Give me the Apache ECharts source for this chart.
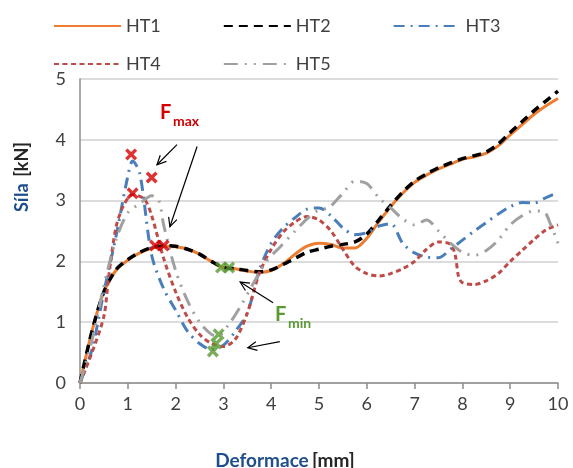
<!DOCTYPE html>
<html>
<head>
<meta charset="utf-8">
<script src="https://cdn.jsdelivr.net/npm/echarts@6/dist/echarts.min.js"></script>
<style>
  html, body { margin: 0; background: #fff; }
  #chart { width: 573px; height: 468px; }
</style>
</head>
<body>
<div id="chart"></div>
<script>
// osa x - deformace [mm], osa y - sila [kN]
const xTicks = [0, 1, 2, 3, 4, 5, 6, 7, 8, 9, 10]
const yTicks = [0, 1, 2, 3, 4, 5]

const ht1X = [0, 0.25, 0.5, 0.75, 1, 1.25, 1.5, 1.75, 2, 2.25, 2.5, 2.75, 3, 3.25, 3.5, 3.75, 4, 4.25, 4.5, 4.75, 5, 5.25, 5.5, 5.75, 6, 6.25, 6.5, 6.75, 7, 7.25, 7.5, 7.75, 8, 8.25, 8.5, 8.75, 9, 9.25, 9.5, 9.75, 10]
const ht1Y = [0, 0.85, 1.5, 1.85, 2.02, 2.14, 2.22, 2.25, 2.24, 2.2, 2.12, 2.0, 1.9, 1.88, 1.84, 1.82, 1.85, 1.96, 2.12, 2.25, 2.3, 2.28, 2.22, 2.22, 2.38, 2.65, 2.9, 3.12, 3.3, 3.42, 3.52, 3.6, 3.68, 3.72, 3.78, 3.9, 4.08, 4.25, 4.42, 4.56, 4.68]

const ht2X = [0, 0.25, 0.5, 0.75, 1, 1.25, 1.5, 1.75, 2, 2.25, 2.5, 2.75, 3, 3.25, 3.5, 3.75, 4, 4.25, 4.5, 4.75, 5, 5.25, 5.5, 5.75, 6, 6.25, 6.5, 6.75, 7, 7.25, 7.5, 7.75, 8, 8.25, 8.5, 8.75, 9, 9.25, 9.5, 9.75, 10]
const ht2Y = [0, 0.85, 1.5, 1.86, 2.03, 2.15, 2.23, 2.26, 2.25, 2.2, 2.12, 2.0, 1.9, 1.88, 1.85, 1.83, 1.86, 1.95, 2.05, 2.15, 2.2, 2.25, 2.28, 2.32, 2.45, 2.68, 2.92, 3.14, 3.32, 3.44, 3.54, 3.62, 3.69, 3.74, 3.8, 3.93, 4.12, 4.3, 4.48, 4.64, 4.8]

const ht3X = [0, 0.25, 0.5, 0.75, 1, 1.1, 1.25, 1.5, 1.75, 2, 2.25, 2.5, 2.75, 3, 3.25, 3.5, 3.75, 4, 4.25, 4.5, 4.75, 5, 5.25, 5.5, 5.75, 6, 6.25, 6.5, 6.75, 7, 7.25, 7.5, 7.75, 8, 8.25, 8.5, 8.75, 9, 9.25, 9.5, 9.75, 10]
const ht3Y = [0, 0.55, 1.5, 2.4, 3.4, 3.65, 3.45, 2.1, 1.55, 1.2, 0.85, 0.65, 0.55, 0.62, 0.85, 1.15, 1.85, 2.3, 2.55, 2.72, 2.86, 2.88, 2.75, 2.55, 2.44, 2.47, 2.58, 2.62, 2.3, 2.14, 2.07, 2.06, 2.2, 2.35, 2.5, 2.64, 2.78, 2.9, 2.97, 2.96, 3.05, 3.13]

const ht4X = [0, 0.25, 0.5, 0.6, 0.75, 0.9, 1.1, 1.35, 1.5, 1.75, 2, 2.25, 2.5, 2.75, 3, 3.25, 3.5, 3.75, 4, 4.25, 4.5, 4.75, 5, 5.25, 5.5, 5.75, 6, 6.25, 6.5, 6.75, 7, 7.25, 7.5, 7.75, 7.85, 7.92, 8, 8.25, 8.5, 8.75, 9, 9.25, 9.5, 9.75, 10]
const ht4Y = [0, 0.5, 1.1, 1.75, 2.55, 2.9, 3.1, 3.02, 2.75, 2.05, 1.5, 1.08, 0.8, 0.65, 0.6, 0.72, 1.15, 1.8, 2.2, 2.48, 2.65, 2.74, 2.68, 2.5, 2.2, 1.92, 1.8, 1.76, 1.8, 1.88, 2.0, 2.2, 2.32, 2.28, 2.1, 1.75, 1.65, 1.62, 1.68, 1.8, 2.0, 2.18, 2.36, 2.52, 2.6]

const ht5X = [0, 0.25, 0.5, 0.75, 1, 1.25, 1.5, 1.65, 1.75, 2, 2.25, 2.5, 2.75, 2.9, 3.1, 3.35, 3.6, 3.9, 4.2, 4.5, 4.75, 5, 5.2, 5.5, 5.75, 6, 6.25, 6.5, 6.75, 7, 7.25, 7.5, 7.75, 8, 8.25, 8.5, 8.75, 9, 9.25, 9.5, 9.7, 9.85, 10]
const ht5Y = [0, 0.7, 1.6, 2.35, 2.8, 2.95, 3.08, 3.0, 2.6, 1.85, 1.35, 1.0, 0.8, 0.78, 0.95, 1.25, 1.6, 2.0, 2.25, 2.5, 2.7, 2.85, 2.88, 3.12, 3.32, 3.28, 3.05, 2.88, 2.7, 2.6, 2.68, 2.5, 2.3, 2.15, 2.1, 2.18, 2.35, 2.6, 2.75, 2.83, 2.82, 2.6, 2.3]

// body Fmax (cervene krizky) a Fmin (zelene krizky)
const fmaxX = [1.07, 1.5, 1.1, 1.57, 1.75]
const fmaxY = [3.76, 3.38, 3.12, 2.26, 2.26]
const fminX = [2.95, 3.12, 2.9, 2.85, 2.78]
const fminY = [1.9, 1.9, 0.8, 0.65, 0.52]

const FONT = 'Lato'
const crossPath = 'path://M0,2 L2,0 L5,3 L8,0 L10,2 L7,5 L10,8 L8,10 L5,7 L2,10 L0,8 L3,5 Z'

const zip = (xs, ys) => xs.map((x, i) => [x, ys[i]])

const lineSeries = (name, xs, ys, color, width, dash) => ({
  name,
  type: 'line',
  symbol: 'none',
  smooth: 0.3,
  data: zip(xs, ys),
  lineStyle: { color, width, type: dash },
  itemStyle: { color },
  z: 3
})

const legendBase = {
  left: 48, itemWidth: 67, itemHeight: 14, itemGap: 62,
  itemStyle: { opacity: 0 },
  textStyle: { fontFamily: FONT, fontSize: 18, color: '#404040' }
}

const chart = echarts.init(document.getElementById('chart'))

chart.setOption({
  animation: false,
  grid: { left: 80, right: 15, top: 79, bottom: 85, containLabel: false },
  legend: [
    Object.assign({}, legendBase, { top: 12, data: ['HT1', 'HT2', 'HT3'] }),
    Object.assign({}, legendBase, { top: 50, data: ['HT4', 'HT5'] })
  ],
  xAxis: {
    type: 'value', min: 0, max: 10, interval: 1,
    axisLine: { lineStyle: { color: '#8c8c8c', width: 1.5 } },
    axisTick: { show: true, length: 6, lineStyle: { color: '#8c8c8c', width: 1.5 } },
    axisLabel: { fontFamily: FONT, fontSize: 18, color: '#404040', margin: 12,
      formatter: (v) => xTicks.includes(v) ? String(v) : '' },
    splitLine: { show: false }
  },
  yAxis: {
    type: 'value', min: 0, max: 5, interval: 1,
    axisLine: { show: true, lineStyle: { color: '#8c8c8c', width: 1.5 } },
    axisTick: { show: false },
    axisLabel: { fontFamily: FONT, fontSize: 18, color: '#404040', margin: 14,
      formatter: (v) => yTicks.includes(v) ? String(v) : '' },
    splitLine: { lineStyle: { color: '#d0d0d0', width: 1.5 } }
  },
  series: [
    lineSeries('HT1', ht1X, ht1Y, '#ED7D31', 3, 'solid'),
    lineSeries('HT2', ht2X, ht2Y, '#000000', 3.5, [9, 6]),
    lineSeries('HT3', ht3X, ht3Y, '#4A7EBB', 3, [11, 6, 2, 6]),
    lineSeries('HT4', ht4X, ht4Y, '#BE4B48', 3, [5, 3.5]),
    lineSeries('HT5', ht5X, ht5Y, '#A0A0A0', 3, [14, 7, 2, 7, 2, 7]),
    {
      name: 'Fmax', type: 'scatter', symbol: crossPath, symbolSize: 12,
      itemStyle: { color: '#D40000' }, data: zip(fmaxX, fmaxY), z: 5
    },
    {
      name: 'Fmin', type: 'scatter', symbol: crossPath, symbolSize: 12,
      itemStyle: { color: '#5A9A32' }, data: zip(fminX, fminY), z: 5
    }
  ]
})

// sipky a popisky (souradnice v jednotkach grafu)
const arrows = [
  [[2.03, 3.92], [1.61, 3.59]],
  [[2.45, 3.89], [1.88, 2.57]],
  [[4.04, 1.32], [3.35, 1.66]],
  [[4.18, 0.68], [3.51, 0.58]]
]
const graphic = []
arrows.forEach(([from, to]) => {
  const a = chart.convertToPixel({ gridIndex: 0 }, from)
  const b = chart.convertToPixel({ gridIndex: 0 }, to)
  const ang = Math.atan2(b[1] - a[1], b[0] - a[0])
  const h = 10
  const p1 = [b[0] - h * Math.cos(ang - 0.45), b[1] - h * Math.sin(ang - 0.45)]
  const p2 = [b[0] - h * Math.cos(ang + 0.45), b[1] - h * Math.sin(ang + 0.45)]
  graphic.push({ type: 'polyline', shape: { points: [a, b] }, style: { stroke: '#000', lineWidth: 1.2, fill: null }, z: 10 })
  graphic.push({ type: 'polyline', shape: { points: [p1, b, p2] }, style: { stroke: '#000', lineWidth: 1.2, fill: null }, z: 10 })
})

graphic.push({
  type: 'text', left: 160, top: 103, z: 10,
  style: { text: 'F', font: 'bold 20px ' + FONT, fill: '#D40000' }
})
graphic.push({
  type: 'text', left: 173, top: 114, z: 10,
  style: { text: 'max', font: 'bold 14px ' + FONT, fill: '#D40000' }
})
graphic.push({
  type: 'text', left: 275, top: 305, z: 10,
  style: { text: 'F', font: 'bold 20px ' + FONT, fill: '#5A9A32' }
})
graphic.push({
  type: 'text', left: 288, top: 316, z: 10,
  style: { text: 'min', font: 'bold 14px ' + FONT, fill: '#5A9A32' }
})
// nazvy os
graphic.push({
  type: 'text', x: 22, y: 177, rotation: Math.PI / 2, z: 10,
  style: {
    text: '{s|Síla}  {k|[kN]}', align: 'center', verticalAlign: 'middle',
    rich: {
      s: { font: 'bold 18px ' + FONT, fill: '#1F4E8C' },
      k: { font: 'bold 18px ' + FONT, fill: '#262626' }
    }
  }
})
graphic.push({
  type: 'text', x: 285, y: 461, z: 10,
  style: {
    text: '{s|Deformace} {k|[mm]}', align: 'center', verticalAlign: 'middle',
    rich: {
      s: { font: 'bold 19px ' + FONT, fill: '#1F4E8C' },
      k: { font: 'bold 19px ' + FONT, fill: '#262626' }
    }
  }
})
chart.setOption({ graphic })
</script>
</body>
</html>
